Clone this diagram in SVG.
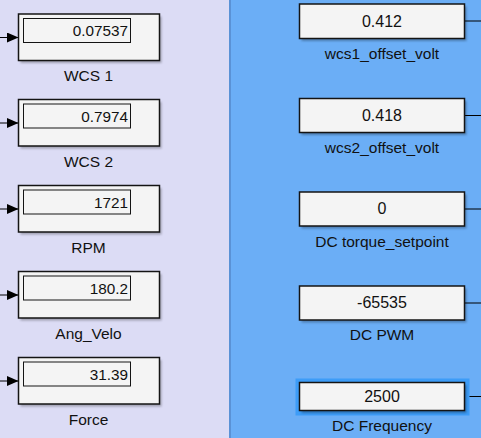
<svg xmlns="http://www.w3.org/2000/svg" width="481" height="438" viewBox="0 0 481 438">
<defs>
<style>
.blk{fill:#f4f4f4;stroke:#141414;stroke-width:1.5}
.shd{fill:#000;opacity:0.28}
.inr{fill:none;stroke:#141414;stroke-width:1}
.val{font-family:"Liberation Sans",Arial,sans-serif;font-size:15.3px;fill:#111}
.rval{font-family:"Liberation Sans",Arial,sans-serif;font-size:16px;fill:#111;text-anchor:middle}
.lbl{font-family:"Liberation Sans",Arial,sans-serif;font-size:15.5px;fill:#111;text-anchor:middle}
.wire{stroke:#000;stroke-width:1;fill:none}
</style>
<filter id="blur" x="-10%" y="-10%" width="120%" height="130%"><feGaussianBlur stdDeviation="1"/></filter>
<marker id="arr" markerWidth="12" markerHeight="10" refX="11.5" refY="5" orient="auto" markerUnits="userSpaceOnUse"><path d="M0,0 L11.5,5 L0,10 Z" fill="#000"/></marker>
</defs>
<rect x="0" y="0" width="230" height="438" fill="#dcdcf5"/>
<rect x="230" y="0" width="251" height="438" fill="#6baef6"/>
<rect x="229" y="0" width="2" height="438" fill="#5a92d6"/>
<g id="connectors">
<line class="wire" x1="0" y1="37.5" x2="18.5" y2="37.5" marker-end="url(#arr)"/>
<line class="wire" x1="0" y1="123" x2="18.5" y2="123" marker-end="url(#arr)"/>
<line class="wire" x1="0" y1="209" x2="18.5" y2="209" marker-end="url(#arr)"/>
<line class="wire" x1="0" y1="295" x2="18.5" y2="295" marker-end="url(#arr)"/>
<line class="wire" x1="0" y1="381" x2="18.5" y2="381" marker-end="url(#arr)"/>
<line class="wire" x1="464.5" y1="21" x2="481" y2="21"/>
<line class="wire" x1="464.5" y1="115.5" x2="481" y2="115.5"/>
<line class="wire" x1="464.5" y1="209" x2="481" y2="209"/>
<line class="wire" x1="464.5" y1="303" x2="481" y2="303"/>
<line class="wire" x1="464.5" y1="396.5" x2="481" y2="396.5"/>
</g>
<g id="wcs1">
<rect class="shd" x="20.5" y="16.5" width="141" height="46.5" filter="url(#blur)"/>
<rect class="blk" x="18.5" y="14" width="141" height="46.5"/>
<rect class="inr" x="23.5" y="18.5" width="107" height="24"/>
<text class="val" x="128" y="36" text-anchor="end">0.07537</text>
<text class="lbl" x="88.5" y="81">WCS 1</text>
</g>
<g id="wcs2">
<rect class="shd" x="20.5" y="102" width="141" height="46.5" filter="url(#blur)"/>
<rect class="blk" x="18.5" y="99.5" width="141" height="46.5"/>
<rect class="inr" x="23.5" y="104" width="107" height="24"/>
<text class="val" x="128" y="121.5" text-anchor="end">0.7974</text>
<text class="lbl" x="88.5" y="166.5">WCS 2</text>
</g>
<g id="rpm">
<rect class="shd" x="20.5" y="188" width="141" height="46.5" filter="url(#blur)"/>
<rect class="blk" x="18.5" y="185.5" width="141" height="46.5"/>
<rect class="inr" x="23.5" y="190" width="107" height="24"/>
<text class="val" x="128" y="207.5" text-anchor="end">1721</text>
<text class="lbl" x="88.5" y="252.5">RPM</text>
</g>
<g id="angvelo">
<rect class="shd" x="20.5" y="274" width="141" height="46.5" filter="url(#blur)"/>
<rect class="blk" x="18.5" y="271.5" width="141" height="46.5"/>
<rect class="inr" x="23.5" y="276" width="107" height="24"/>
<text class="val" x="128" y="293.5" text-anchor="end">180.2</text>
<text class="lbl" x="88.5" y="338.5">Ang_Velo</text>
</g>
<g id="force">
<rect class="shd" x="20.5" y="360" width="141" height="46.5" filter="url(#blur)"/>
<rect class="blk" x="18.5" y="357.5" width="141" height="46.5"/>
<rect class="inr" x="23.5" y="362" width="107" height="24"/>
<text class="val" x="128" y="379.5" text-anchor="end">31.39</text>
<text class="lbl" x="88.5" y="424.5">Force</text>
</g>
<g id="wcs1_offset_volt">
<rect class="shd" x="301.5" y="6.5" width="165" height="34.5" filter="url(#blur)"/>
<rect class="blk" x="299.5" y="4" width="165" height="34.5"/>
<text class="rval" x="382" y="26.5">0.412</text>
<text class="lbl" x="382" y="58.5">wcs1_offset_volt</text>
</g>
<g id="wcs2_offset_volt">
<rect class="shd" x="301.5" y="101" width="165" height="34" filter="url(#blur)"/>
<rect class="blk" x="299.5" y="98.5" width="165" height="34"/>
<text class="rval" x="382" y="121">0.418</text>
<text class="lbl" x="382" y="152.5">wcs2_offset_volt</text>
</g>
<g id="dc_torque_setpoint">
<rect class="shd" x="301.5" y="194.5" width="165" height="34" filter="url(#blur)"/>
<rect class="blk" x="299.5" y="192" width="165" height="34"/>
<text class="rval" x="382" y="214">0</text>
<text class="lbl" x="382" y="246.5">DC torque_setpoint</text>
</g>
<g id="dc_pwm">
<rect class="shd" x="301.5" y="288.5" width="165" height="34" filter="url(#blur)"/>
<rect class="blk" x="299.5" y="286" width="165" height="34"/>
<text class="rval" x="382" y="308">-65535</text>
<text class="lbl" x="382" y="339.5">DC PWM</text>
</g>
<g id="dc_frequency">
<rect x="295.5" y="378.5" width="174" height="37" fill="#3d9cf7"/>
<rect class="shd" x="301.5" y="385" width="165" height="28" filter="url(#blur)"/>
<rect class="blk" x="299.5" y="382.5" width="165" height="28"/>
<text class="rval" x="382" y="401.5">2500</text>
<text class="lbl" x="382" y="431">DC Frequency</text>
</g>
</svg>
